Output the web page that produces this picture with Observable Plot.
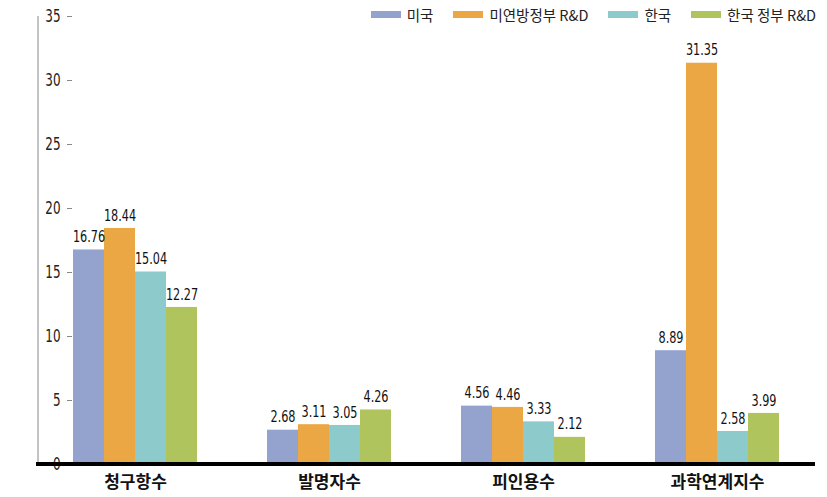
<!DOCTYPE html>
<html><head><meta charset="utf-8">
<script src="https://cdn.jsdelivr.net/npm/d3@7"></script>
<script src="https://cdn.jsdelivr.net/npm/@observablehq/plot@0.6"></script>
<style>
body{margin:0;background:#fff;}
#wrap{position:relative;width:827px;height:497px;}
#legend{position:absolute;top:4px;right:11px;display:flex;gap:20px;font-family:"Noto Sans CJK KR","Noto Sans",sans-serif;font-size:14.5px;color:#222;align-items:center;white-space:nowrap;z-index:2;}
#legend .it{display:flex;align-items:center;gap:6px;}
#legend .sw{width:30px;height:7px;display:inline-block;}
.num text{font-stretch:condensed;}
</style></head>
<body><div id="wrap"><div id="legend"></div></div>
<script>
const categories = ["청구항수","발명자수","피인용수","과학연계지수"];
const seriesNames = ["미국","미연방정부 R&D","한국","한국 정부 R&D"];
const colors = ["#94A3CE","#EBA744","#8DCACB","#AFC45C"];
const usa = [16.76, 2.68, 4.56, 8.89];
const usFed = [18.44, 3.11, 4.46, 31.35];
const korea = [15.04, 3.05, 3.33, 2.58];
const koreaGov = [12.27, 4.26, 2.12, 3.99];
const yTicks = [0,5,10,15,20,25,30,35];

const series = [usa, usFed, korea, koreaGov];
const data = [];
categories.forEach((c,i)=>series.forEach((s,j)=>data.push({cat:c, ser:seriesNames[j], v:s[i]})));

const numFont = "'DejaVu Sans Condensed','DejaVu Sans',sans-serif";

const chart = Plot.plot({
  width: 827, height: 497,
  marginLeft: 38, marginRight: 12, marginTop: 16, marginBottom: 33,
  style: {fontFamily: numFont, background: "#fff"},
  fx: {domain: categories, paddingInner: 0.35, paddingOuter: 0.175, label: null, axis: null},
  x: {domain: seriesNames, padding: 0, axis: null},
  y: {domain: [0,35], ticks: yTicks, label: null},
  color: {domain: seriesNames, range: colors},
  marks: [
    Plot.barY(data, {fx:"cat", x:"ser", y:"v", fill:"ser"}),
    Plot.text(data, {fx:"cat", x:"ser", y:"v", text: d=>d.v.toFixed(2), dy:-13, fontSize:16, fill:"#111", fontFamily: numFont, className:"num vlab"}),
    Plot.axisY({ticks: yTicks, tickSize: 5, tickPadding: 7, fontSize: 17, stroke:"#888", color:"#222", fontFamily: numFont, className:"num ylab"}),
    Plot.axisFx({anchor:"bottom", tickSize:0, tickPadding: 11, fontSize:17, fontWeight:"bold", fontFamily:"'Noto Sans CJK KR',sans-serif", color:"#111", label:null})
  ]
});
document.getElementById("wrap").appendChild(chart);

// narrow the numeric glyphs (condensed look)
function narrow(sel, k){
  chart.querySelectorAll(sel).forEach(t=>{
    const w = t.getComputedTextLength();
    if (w>0){ t.setAttribute("textLength", (w*k).toFixed(2)); t.setAttribute("lengthAdjust","spacingAndGlyphs"); }
  });
}
narrow(".vlab text", 0.78);
narrow(".ylab text", 0.78);

const yScale = chart.scale("y");
const svg = d3.select(chart);
svg.append("line").attr("x1",38).attr("x2",38).attr("y1",yScale.apply(35)).attr("y2",yScale.apply(0)).attr("stroke","#888");
svg.append("line").attr("x1",36).attr("x2",815).attr("y1",yScale.apply(0)).attr("y2",yScale.apply(0)).attr("stroke","#000").attr("stroke-width",4);

const lg = document.getElementById("legend");
seriesNames.forEach((n,i)=>{
  const it=document.createElement("span"); it.className="it";
  it.innerHTML=`<span class="sw" style="background:${colors[i]}"></span><span>${n}</span>`;
  lg.appendChild(it);
});
</script></body></html>
